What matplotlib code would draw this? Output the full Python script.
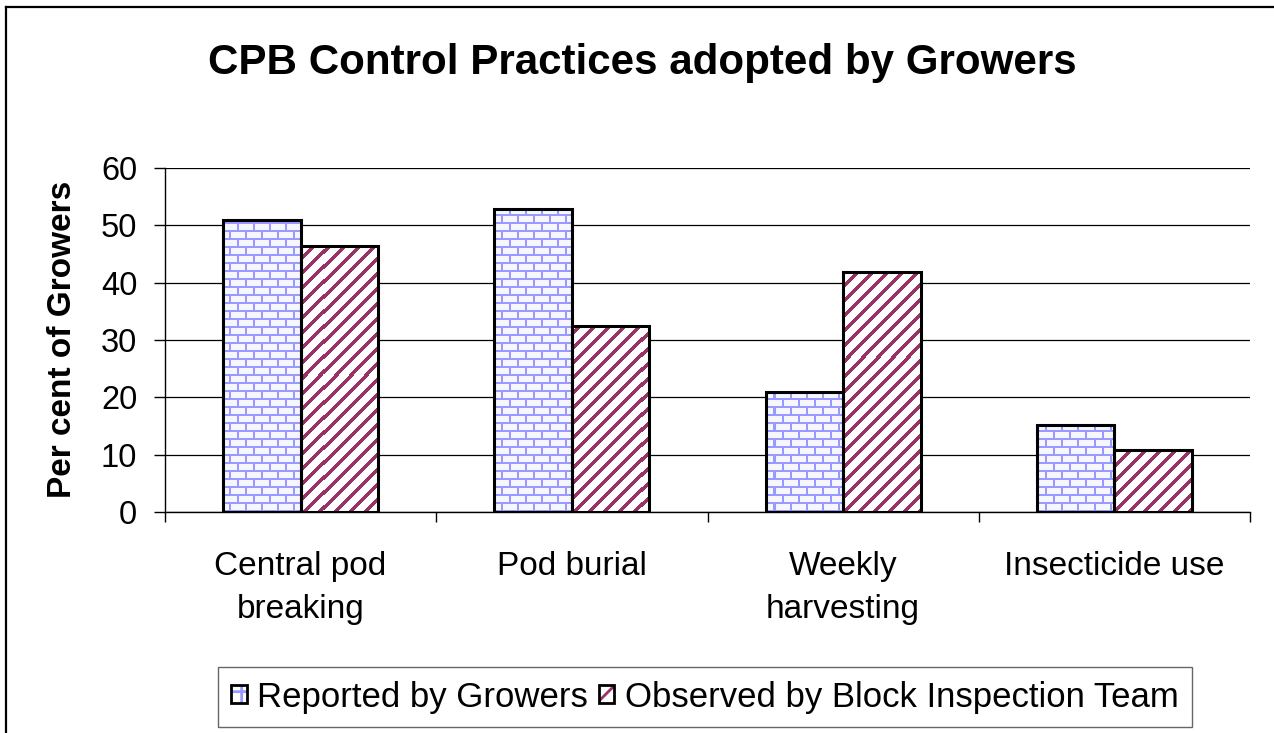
import numpy as np
import matplotlib
matplotlib.use("Agg")
import matplotlib.pyplot as plt
from matplotlib.patches import Patch
from matplotlib.lines import Line2D
from matplotlib.ticker import FixedLocator

categories = ["Central pod\nbreaking", "Pod burial", "Weekly\nharvesting", "Insecticide use"]
reported = [50.9, 52.8, 20.9, 15.1]
observed = [46.4, 32.4, 41.9, 10.9]
series_names = ["Reported by Growers", "Observed by Block Inspection Team"]
yticks = [0, 10, 20, 30, 40, 50, 60]
title = "CPB Control Practices adopted by Growers"
ylabel = "Per cent of Growers"

plt.rcParams['font.family'] = ['Liberation Sans', 'DejaVu Sans']
plt.rcParams['hatch.linewidth'] = 2.0

W, H, DPI = 1274, 733, 100
fig = plt.figure(figsize=(W / DPI, H / DPI), dpi=DPI)
fig.patch.set_facecolor('white')

ax_l, ax_r, ax_t, ax_b = 165, 1250, 168, 512
ax = fig.add_axes([ax_l / W, 1 - ax_b / H, (ax_r - ax_l) / W, (ax_b - ax_t) / H])

n = len(categories)
x = np.arange(n)
bw = 0.286
xlim = (-0.5, n - 0.5)
ylim = (0, 60)

# textures in pixel space covering the axes
pw, ph = ax_r - ax_l, ax_b - ax_t
cols = np.arange(pw)[None, :]
rows = np.arange(ph)[:, None]
mortar = np.array([0x99, 0x99, 0xFF]) / 255.0
brick_face = np.array([0xF6, 0xF6, 0xFF]) / 255.0
rowmod = (ph - 1 - rows) % 8
hline = rowmod < 2
brick_row = (ph - 1 - rows) // 8
off = np.where(brick_row % 2 == 0, 0, 8)
vline = ((cols + off) % 16) < 2
brick_mask = hline | vline
brick = np.where(brick_mask[..., None], mortar, brick_face)

stripe_col = np.array([0x99, 0x33, 0x66]) / 255.0
stripe_mask = ((cols + rows) % 15) < 5
stripes = np.where(stripe_mask[..., None], stripe_col, np.array([1.0, 1.0, 1.0]))

bars1 = ax.bar(x - bw / 2, reported, bw, facecolor='none', edgecolor='black', linewidth=2.2, zorder=3)
bars2 = ax.bar(x + bw / 2, observed, bw, facecolor='none', edgecolor='black', linewidth=2.2, zorder=3)

for bars, tex in ((bars1, brick), (bars2, stripes)):
    for b in bars:
        im = ax.imshow(tex, extent=(xlim[0], xlim[1], ylim[0], ylim[1]), aspect='auto',
                       interpolation='nearest', origin='upper', zorder=2)
        im.set_clip_path(b)

ax.set_xlim(*xlim)
ax.set_ylim(*ylim)

# axes styling
for s in ['top', 'right']:
    ax.spines[s].set_visible(False)
for s in ['left', 'bottom']:
    ax.spines[s].set_color('black')
    ax.spines[s].set_linewidth(1.0)

ax.set_yticks(yticks)
ax.yaxis.grid(True, color='black', linewidth=0.9)
ax.set_axisbelow(True)
ax.tick_params(axis='y', direction='out', length=8, width=1, labelsize=23.5, pad=12)

ax.set_xticks(x)
ax.set_xticklabels(categories, fontsize=24, linespacing=1.5)
ax.xaxis.set_minor_locator(FixedLocator(np.arange(-0.5, n, 1.0)))
ax.tick_params(axis='x', which='major', length=0, pad=28)
ax.tick_params(axis='x', which='minor', direction='out', length=7, width=1)

fig.text(642 / W, 1 - 74 / H, title, ha='center', va='baseline', fontsize=30.3, fontweight='bold')
fig.text(63 / W, 1 - 339 / H, ylabel, ha='center', va='center', rotation=90, fontsize=24, fontweight='bold')

# legend
h1 = (Patch(facecolor='white', edgecolor='#9999FF', hatch='+', linewidth=0),
      Patch(facecolor='none', edgecolor='black', linewidth=2))
h2 = (Patch(facecolor='white', edgecolor='#993366', hatch='//', linewidth=0),
      Patch(facecolor='none', edgecolor='black', linewidth=2))
leg = fig.legend([h1, h2], series_names, loc='center', bbox_to_anchor=(705 / W, 1 - 697 / H),
                 ncol=2, fontsize=25, frameon=True, fancybox=False, shadow=False,
                 handlelength=0.45, handleheight=0.45, handletextpad=0.3, columnspacing=0.3,
                 borderpad=0.4, borderaxespad=0)
leg.get_frame().set_edgecolor('#404040')
leg.get_frame().set_linewidth(1.0)

# outer chart border (left and top visible)
fig.add_artist(Line2D([6 / W, 6 / W], [0, 1 - 7 / H], transform=fig.transFigure, color='black', linewidth=1.6))
fig.add_artist(Line2D([6 / W, 1], [1 - 7 / H, 1 - 7 / H], transform=fig.transFigure, color='black', linewidth=1.6))

fig.savefig('out.png', dpi=DPI, facecolor='white')
